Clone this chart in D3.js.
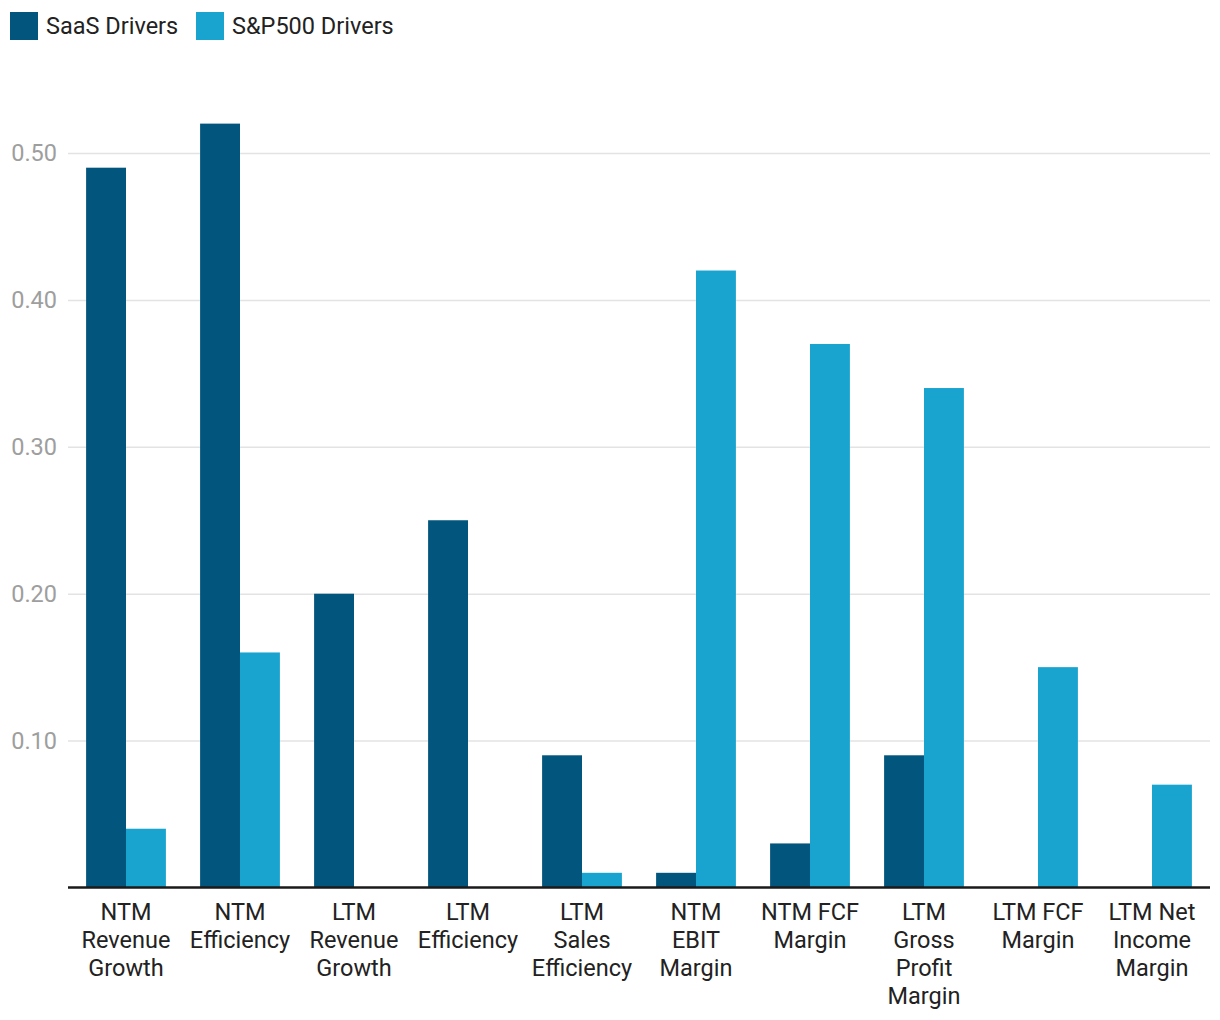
<!DOCTYPE html>
<html>
<head>
<meta charset="utf-8">
<script src="https://cdn.jsdelivr.net/npm/d3@7"></script>
<style>
  body { margin: 0; background: #fff; font-family: Roboto, sans-serif; }
</style>
</head>
<body>
<script>
// Chart data
const categories = [
    ['NTM', 'Revenue', 'Growth'],
    ['NTM', 'Efficiency'],
    ['LTM', 'Revenue', 'Growth'],
    ['LTM', 'Efficiency'],
    ['LTM', 'Sales', 'Efficiency'],
    ['NTM', 'EBIT', 'Margin'],
    ['NTM FCF', 'Margin'],
    ['LTM', 'Gross', 'Profit', 'Margin'],
    ['LTM FCF', 'Margin'],
    ['LTM Net', 'Income', 'Margin'],
];
const saasValues = [0.49, 0.52, 0.2, 0.25, 0.09, 0.01, 0.03, 0.09, 0, 0];
const spValues = [0.04, 0.16, 0, 0, 0.01, 0.42, 0.37, 0.34, 0.15, 0.07];
const seriesNames = ['SaaS Drivers', 'S&P500 Drivers'];
const yTicks = [0.1, 0.2, 0.3, 0.4, 0.5];

const colors = ['#02557c', '#19a3cf'];
const width = 1220;
const height = 1020;

const svg = d3.select('body').append('svg')
    .attr('width', width)
    .attr('height', height);

// Scales
const xScale = d3.scaleBand()
    .domain(d3.range(categories.length))
    .range([69, 1209])
    .paddingInner(0.3)
    .paddingOuter(0.15);

const xInner = d3.scaleBand()
    .domain([0, 1])
    .range([0, xScale.bandwidth()]);

const yScale = d3.scaleLinear()
    .domain([0, 0.5])
    .range([887.5, 153]);

// Gridlines and y labels
const yAxis = d3.axisLeft(yScale)
    .tickValues(yTicks)
    .tickFormat(d3.format('.2f'))
    .tickSize(-(1210 - 68))
    .tickPadding(11);

const yG = svg.append('g')
    .attr('transform', 'translate(68,0)')
    .call(yAxis);
yG.select('.domain').remove();
yG.selectAll('.tick line').attr('stroke', '#e3e3e3').attr('stroke-width', 1.5);
yG.selectAll('.tick text')
    .attr('fill', '#9e9e9e')
    .style('font-family', 'Roboto, sans-serif')
    .style('font-size', '23.5px');

// Bars
const groups = svg.append('g').selectAll('g')
    .data(categories.map((c, i) => [saasValues[i], spValues[i]]))
    .join('g')
    .attr('transform', (d, i) => 'translate(' + xScale(i) + ',0)');

groups.selectAll('rect')
    .data((d) => d.map((v, k) => ({ v, k })))
    .join('rect')
    .attr('x', (d) => xInner(d.k))
    .attr('width', xInner.bandwidth())
    .attr('y', (d) => yScale(d.v))
    .attr('height', (d) => yScale(0) - yScale(d.v))
    .attr('fill', (d) => colors[d.k]);

// Baseline
svg.append('line')
    .attr('x1', 68)
    .attr('x2', 1210)
    .attr('y1', yScale(0))
    .attr('y2', yScale(0))
    .attr('stroke', '#1a1a1a')
    .attr('stroke-width', 2.5);

// X labels
const xLabels = svg.append('g').selectAll('text')
    .data(categories)
    .join('text')
    .attr('x', (d, i) => xScale(i) + xScale.bandwidth() / 2)
    .attr('y', 920)
    .attr('text-anchor', 'middle')
    .attr('fill', '#222')
    .style('font-size', '23.5px');

xLabels.selectAll('tspan')
    .data((d) => d)
    .join('tspan')
    .attr('x', function () { return this.parentNode.getAttribute('x'); })
    .attr('dy', (d, i) => (i === 0 ? 0 : 28))
    .text((d) => d);

// Legend
const legendX = [10, 196];
const legend = svg.append('g').selectAll('g')
    .data(seriesNames)
    .join('g')
    .attr('transform', (d, i) => 'translate(' + legendX[i] + ',12)');
legend.append('rect')
    .attr('width', 28)
    .attr('height', 28)
    .attr('fill', (d, i) => colors[i]);
legend.append('text')
    .attr('x', 36)
    .attr('y', 22)
    .attr('fill', '#222')
    .style('font-size', '23.5px')
    .text((d) => d);
</script>
</body>
</html>
